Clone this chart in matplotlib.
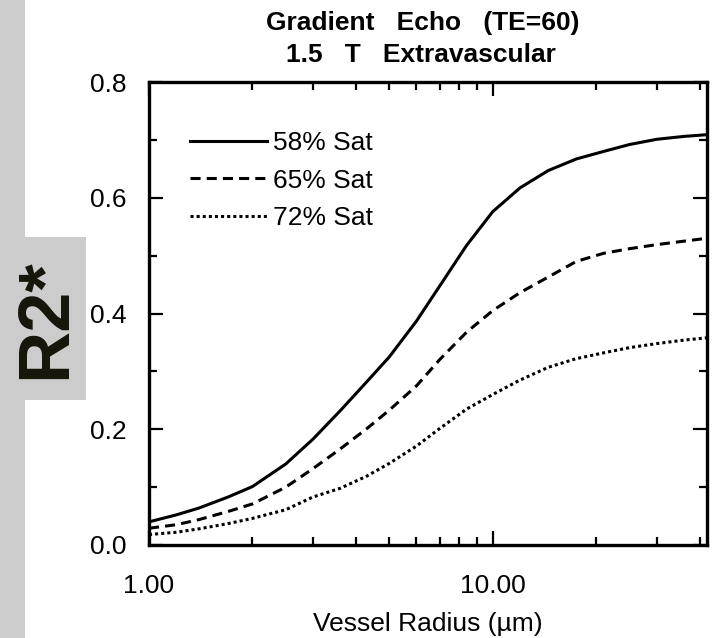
import matplotlib
matplotlib.use("Agg")
import matplotlib.pyplot as plt
from matplotlib.patches import Rectangle
from matplotlib.ticker import FixedLocator, FixedFormatter, MultipleLocator, LogLocator, NullFormatter

plt.rcParams['font.family'] = ['Liberation Sans', 'DejaVu Sans']

# ---- data ----
radius = [1.0, 1.2, 1.4, 1.7, 2.0, 2.5, 3.0, 3.6, 4.3, 5.0, 6.0, 7.0, 8.4, 10.0,
          12.0, 14.5, 17.5, 21.0, 25.0, 30.0, 36.0, 42.0]
sat58 = [0.040, 0.052, 0.064, 0.083, 0.101, 0.140, 0.183, 0.232, 0.282, 0.325, 0.387, 0.447, 0.518, 0.576,
         0.617, 0.647, 0.667, 0.680, 0.692, 0.701, 0.706, 0.709]
sat65 = [0.029, 0.035, 0.044, 0.058, 0.071, 0.100, 0.132, 0.166, 0.201, 0.233, 0.275, 0.320, 0.368, 0.405,
         0.436, 0.463, 0.490, 0.504, 0.512, 0.519, 0.525, 0.530]
sat72 = [0.018, 0.022, 0.028, 0.037, 0.046, 0.061, 0.083, 0.098, 0.119, 0.141, 0.171, 0.201, 0.235, 0.260,
         0.285, 0.307, 0.322, 0.332, 0.341, 0.348, 0.354, 0.358]
labels = ["58% Sat", "65% Sat", "72% Sat"]
x_ticks = [1, 10]
x_ticklabels = ["1.00", "10.00"]
y_ticks = [0.0, 0.2, 0.4, 0.6, 0.8]
y_ticklabels = ["0.0", "0.2", "0.4", "0.6", "0.8"]
title_lines = ["Gradient   Echo   (TE=60)", "1.5   T   Extravascular"]
xlabel = "Vessel Radius (\u00b5m)"
side_label = "R2*"

W, H = 717, 638
fig = plt.figure(figsize=(W / 100, H / 100), dpi=100)

# grey decorations on the left
fig.patches.append(Rectangle((0, 0), 25 / W, 1, transform=fig.transFigure,
                             facecolor='#cccccc', edgecolor='none', zorder=0))
fig.patches.append(Rectangle((25 / W, 1 - 400 / H), 61 / W, 163 / H, transform=fig.transFigure,
                             facecolor='#cccccc', edgecolor='none', zorder=0))
fig.text(46 / W, 1 - 319 / H, side_label, rotation=90, ha='center', va='center',
         fontsize=52, fontweight='bold', color='#15150a')

ax = fig.add_axes([149 / W, 1 - 545 / H, (707 - 149) / W, (545 - 82) / H])

lw = 2.2
ax.plot(radius, sat58, color='black', lw=lw, linestyle='-', label=labels[0])
ax.plot(radius, sat65, color='black', lw=lw, linestyle=(0, (3.3, 2.0)), label=labels[1])
ax.plot(radius, sat72, color='black', lw=lw, linestyle=(0, (1.0, 1.0)), label=labels[2])

ax.set_xscale('log')
ax.set_xlim(1, 42)
ax.set_ylim(0, 0.8)

ax.xaxis.set_major_locator(FixedLocator(x_ticks))
ax.xaxis.set_major_formatter(FixedFormatter(x_ticklabels))
ax.xaxis.set_minor_locator(LogLocator(base=10, subs=[2, 3, 4, 5, 6, 7, 8, 9], numticks=10))
ax.xaxis.set_minor_formatter(NullFormatter())
ax.yaxis.set_major_locator(FixedLocator(y_ticks))
ax.yaxis.set_major_formatter(FixedFormatter(y_ticklabels))
ax.yaxis.set_minor_locator(MultipleLocator(0.1))

ax.tick_params(which='both', direction='in', top=True, right=True, width=1.6, labelsize=19)
ax.tick_params(which='major', length=10)
ax.tick_params(which='minor', length=6)
ax.tick_params(axis='x', which='major', pad=21)
ax.tick_params(axis='y', which='major', pad=16)
for s in ax.spines.values():
    s.set_linewidth(2.4)

ax.set_xlabel(xlabel, fontsize=19, labelpad=10)

leg = ax.legend(loc='upper left', bbox_to_anchor=(0.055, 0.916), frameon=False,
                fontsize=19, handlelength=2.9, handletextpad=0.25, labelspacing=0.5,
                borderaxespad=0)

fig.text(423 / W, 1 - 23 / H, title_lines[0], ha='center', va='center', fontsize=19, fontweight='bold')
fig.text(421 / W, 1 - 55 / H, title_lines[1], ha='center', va='center', fontsize=19, fontweight='bold')

fig.savefig('out.png', dpi=100)
